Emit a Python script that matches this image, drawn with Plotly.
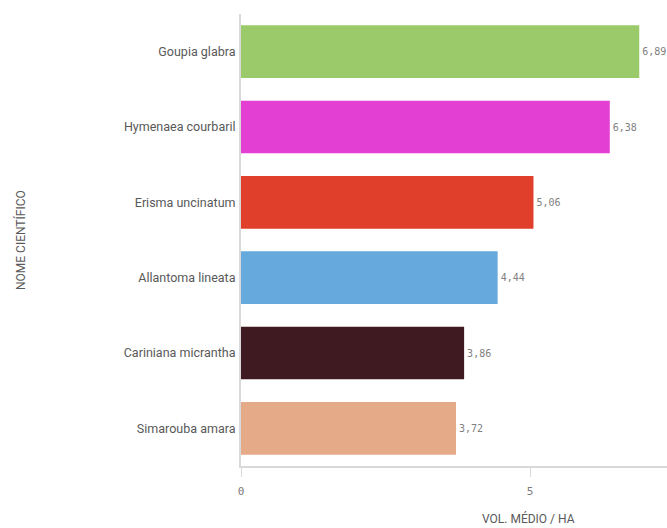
import plotly.graph_objects as go

species = ["Goupia glabra", "Hymenaea courbaril", "Erisma uncinatum",
           "Allantoma lineata", "Cariniana micrantha", "Simarouba amara"]
vol_medio = [6.89, 6.38, 5.06, 4.44, 3.86, 3.72]
colors = ["#9aca6a", "#e33fd2", "#e0402b", "#66a9dc", "#3f1a20", "#e5aa88"]
x_ticks = [0, 5]
x_tick_labels = ["0", "5"]

W, H = 667, 528
L, R, T, B = 241, 0, 14, 62

fig = go.Figure(go.Bar(
    y=species, x=vol_medio, orientation="h",
    marker=dict(color=colors, line=dict(width=0)),
    texttemplate="%{x:.2f}", textposition="outside", cliponaxis=False,
    textfont=dict(family="DejaVu Sans Mono", size=10, color="#808080"),
    hoverinfo="skip",
))

fig.update_layout(
    width=W, height=H,
    margin=dict(l=L, r=R, t=T, b=B, autoexpand=False),
    plot_bgcolor="white", paper_bgcolor="white",
    separators=",.",
    bargap=0.3,
    showlegend=False,
    font=dict(family="Roboto", color="#595959"),
    uniformtext=dict(minsize=10, mode="show"),
)
fig.update_yaxes(
    categoryorder="array", categoryarray=species[::-1],
    showline=True, linecolor="#d9d9d9", linewidth=2,
    ticks="", ticklabelstandoff=1, automargin=False,
    tickfont=dict(family="Roboto", size=12.5, color="#595959"),
    showgrid=False, zeroline=False,
)
fig.update_xaxes(
    range=[0, 7.37],
    tickvals=x_ticks, ticktext=x_tick_labels,
    showline=True, linecolor="#d9d9d9", linewidth=2,
    ticks="outside", ticklen=9, tickcolor="#d9d9d9", tickwidth=1,
    ticklabelstandoff=5, automargin=False,
    tickfont=dict(family="DejaVu Sans Mono", size=11, color="#7a7a7a"),
    showgrid=False, zeroline=False,
)
fig.add_annotation(
    text="VOL. MÉDIO / HA", xref="x", yref="paper", x=4.98, y=0,
    yshift=-52, showarrow=False, xanchor="center", yanchor="middle",
    font=dict(family="Roboto", size=12, color="#595959"),
)
fig.add_annotation(
    text="NOME CIENTÍFICO", xref="paper", yref="paper", x=0, y=0.5,
    xshift=-221, textangle=-90, showarrow=False,
    xanchor="center", yanchor="middle",
    font=dict(family="Roboto", size=12, color="#595959"),
)

fig.write_html("out.html", config={"displayModeBar": False},
               post_script="document.body.style.margin='0';document.body.style.overflow='hidden';")
